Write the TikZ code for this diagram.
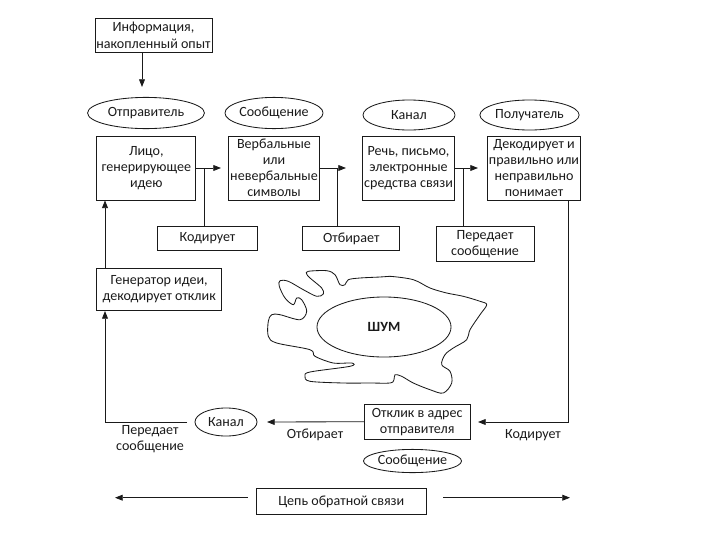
\documentclass[tikz,border=0pt]{standalone}
\usepackage{fontspec}
\setmainfont{Carlito}
\usetikzlibrary{positioning, arrows.meta, shapes.geometric}
\definecolor{inkGrey}{HTML}{1A1A1A}

\begin{document}
\begin{tikzpicture}[x=0.025cm, y=-0.025cm, line width=0.6pt, color=inkGrey,
    every node/.style={font=\fontsize{10}{11.5}\selectfont, align=center, inner sep=1pt},
    box/.style={draw, rectangle},
    oval/.style={draw, ellipse, inner sep=0pt},
    arr/.style={-{Triangle[length=5.5pt, width=4.2pt]}}]
        \useasboundingbox (0,0) rectangle (720,540);
        % Top row: source of information
        \node[box, minimum width=2.87cm, minimum height=0.85cm] (info) at (153.5,35.3) {Информация,\\накопленный опыт};
        % Row of ovals
        \node[oval, minimum width=2.92cm, minimum height=0.78cm] (sender) at (146,113) {Отправитель};
        \node[oval, minimum width=2.2cm, minimum height=0.78cm] (msgTop) at (274,113) {Сообщение};
        \node[oval, minimum width=2.3cm, minimum height=0.75cm] (chanTop) at (409,115) {Канал};
        \node[oval, minimum width=2.48cm, minimum height=0.75cm] (receiver) at (529.5,115) {Получатель};
        % Row of boxes
        \node[box, minimum width=2.48cm, minimum height=1.6cm] (person) at (146.3,168) {Лицо,\\генерирующее\\идею};
        \node[box, minimum width=2.17cm, minimum height=1.6cm] (symbols) at (274,168) {Вербальные\\или\\невербальные\\символы};
        \node[box, minimum width=2.18cm, minimum height=1.6cm] (speech) at (408.5,168) {Речь, письмо,\\электронные\\средства связи};
        \node[box, minimum width=2.25cm, minimum height=1.6cm] (decode) at (534,168) {Декодирует и\\правильно или\\неправильно\\понимает};
        % Actions under the boxes
        \node[box, minimum width=2.48cm, minimum height=0.61cm] (encode) at (207.5,238.5) {Кодирует};
        \node[box, minimum width=2.43cm, minimum height=0.61cm] (select) at (351.3,238.5) {Отбирает};
        \node[box, minimum width=2.45cm, minimum height=0.87cm] (transmit) at (485,244) {Передает\\сообщение};
        \node[box, minimum width=3.12cm, minimum height=1.07cm] (generator) at (159.2,289.5) {Генератор идеи,\\декодирует отклик};
        % Noise
        \draw plot[smooth cycle, tension=0.55] coordinates {
          (308.3,271.3) (326.7,270.7) (335,274.7) (340,284.7) (345,284.7) (348.3,279.7)
          (360,278) (380,277) (390,276.3) (413.3,279.7) (430,288) (446.7,293) (463.3,296.3)
          (480,301.3) (486.7,304.7) (480,314.7) (470,329.7) (466.7,339.7) (453.3,348)
          (445,354.7) (441.7,364.7) (450,371.3) (451.7,383) (443.3,393) (430,389.7)
          (413.3,383) (401.7,376.3) (395,374.7) (394,379.7) (390,383) (370,383) (343.3,383)
          (310,381.3) (305,376.3) (310,372) (350,366.3) (351.7,363) (333.3,363) (315,356.3)
          (310,349.7) (276.7,343) (268.3,336.3) (268.3,321.3) (271.7,314.7) (280,314.7)
          (300,319.7) (306.7,311.3) (301.7,299.7) (296.7,298) (293.3,304.7) (285,298)
          (279.3,286.3) (280,280.7) (288.3,281.3) (303.3,289.7) (316.7,296.3) (323.3,294)
          (321.7,288) (310,278) (306.7,274)};
        \node[oval, minimum width=3.35cm, minimum height=1.5cm, font=\fontsize{10}{11.5}\selectfont\bfseries] (noise) at (384,327) {ШУМ};
        % Feedback row
        \node[box, minimum width=2.64cm, minimum height=0.88cm] (reply) at (417.2,421.7) {Отклик в адрес\\отправителя};
        \node[oval, minimum width=1.55cm, minimum height=0.7cm] (chanBot) at (226,422) {Канал};
        \node[oval, minimum width=2.45cm, minimum height=0.58cm] (msgBot) at (412.5,461) {Сообщение};
        \node (lblSend) at (150,439) {Передает\\сообщение};
        \node (lblSelect) at (315,435) {Отбирает};
        \node (lblEncode) at (533,435) {Кодирует};
        % Feedback chain
        \node[box, minimum width=4.23cm, minimum height=0.63cm] (chain) at (341.3,501.5) {Цепь обратной связи};
        % Helper points
        \coordinate (infoTip) at (142,87);
        \coordinate (tipA) at (221,168);
        \coordinate (tipB) at (346,168);
        \coordinate (tipC) at (478,168);
        \coordinate (tapA) at (204,168);
        \coordinate (tapB) at (337.5,168);
        \coordinate (tapC) at (463,168);
        \coordinate (rightRail) at (568.5,200);
        \coordinate (tipD) at (478,422);
        \coordinate (tipE) at (267,422);
        \coordinate (leftStart) at (187,422);
        \coordinate (leftRail) at (105,311);
        \coordinate (tipL) at (115,497.7);
        \coordinate (tipR) at (570,497.7);
        % Connectors
        \draw[arr] (info.south -| infoTip) -- (infoTip);
        \draw[arr] (person.east) -- (tipA);
        \draw (tapA) -- (tapA |- encode.north);
        \draw[arr] (symbols.east) -- (tipB);
        \draw (tapB) -- (tapB |- select.north);
        \draw[arr] (speech.east) -- (tipC);
        \draw (tapC) -- (tapC |- transmit.north);
        \draw[arr] (rightRail) |- (tipD);
        \draw[arr] (reply.west) -- (tipE);
        \draw[arr] (leftStart) -| (leftRail);
        \draw[arr] (generator.north -| leftRail) -- (person.south -| leftRail);
        \draw[arr, shorten <=6pt] (tipL -| chain.west) -- (tipL);
        \draw[arr, shorten <=12pt] (tipR -| chain.east) -- (tipR);
      \end{tikzpicture}
\end{document}
